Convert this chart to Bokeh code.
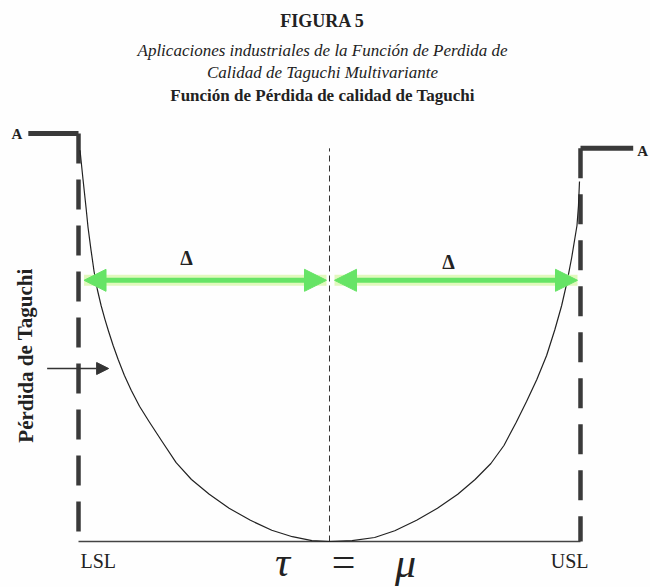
from bokeh.plotting import figure
from bokeh.models import Label, Arrow, NormalHead, Range1d
from bokeh.embed import file_html
from bokeh.resources import INLINE

# ---- data -------------------------------------------------------------
# deviation from target (LSL = -1, target tau = 0, USL = +1)
spec_limits = [-1.0, 1.0]
target = 0.0
# loss level A reached outside the specification limits (left, right)
loss_A = [1.02, 0.983]
# Taguchi quality-loss curve, read point by point
loss_dev = [-0.994, -0.982, -0.970, -0.962, -0.950, -0.938, -0.925, -0.910,
            -0.895, -0.880, -0.862, -0.842, -0.817, -0.790, -0.757, -0.719,
            -0.667, -0.611, -0.550, -0.479, -0.400, -0.315, -0.230, -0.148,
            -0.070, 0.0,
            0.090, 0.180, 0.260, 0.347, 0.430, 0.511, 0.580, 0.643, 0.695,
            0.743, 0.785, 0.826, 0.865, 0.898, 0.925, 0.946, 0.965, 0.986,
            0.992, 0.996]
loss_val = [0.978, 0.905, 0.835, 0.785, 0.728, 0.675, 0.630, 0.590,
            0.556, 0.525, 0.490, 0.455, 0.415, 0.378, 0.338, 0.300,
            0.250, 0.197, 0.155, 0.118, 0.083, 0.053, 0.028, 0.012,
            0.002, 0.0,
            0.002, 0.010, 0.027, 0.053, 0.083, 0.118, 0.155, 0.195, 0.240,
            0.297, 0.350, 0.405, 0.465, 0.530, 0.590, 0.648, 0.710, 0.790,
            0.840, 0.900]
# tolerance half-width Delta drawn at this loss level
delta_level = 0.653
# small marker pointing at the loss curve
marker_level = 0.4325
# top of the target line
target_line_top = 0.983

title_lines = ["FIGURA 5",
               "Aplicaciones industriales de la Función de Perdida de",
               "Calidad de Taguchi Multivariante",
               "Función de Pérdida de calidad de Taguchi"]

W, H = 650, 587
SERIF = "Liberation Serif"
INK = "#222222"

p = figure(width=W, height=H, x_range=Range1d(-1.3108, 1.2789),
           y_range=Range1d(-0.115, 1.3525), x_axis_type=None, y_axis_type=None,
           toolbar_location=None, output_backend="svg", min_border=0)
p.grid.visible = False
p.outline_line_color = None
p.background_fill_color = "#fefefe"
p.border_fill_color = "#fefefe"

lsl, usl = spec_limits

# baseline between the limits
p.line([lsl, usl], [0, 0], line_color="#444444", line_width=1.4)
# target line
p.line([target, target], [0, target_line_top], line_color="#333333",
       line_width=1, line_dash="6 4")

# step to level A outside the limits
p.line([lsl - 0.2, lsl], [loss_A[0], loss_A[0]], line_color="#3a3a3a", line_width=5)
p.line([usl, usl + 0.21], [loss_A[1], loss_A[1]], line_color="#3a3a3a", line_width=5)
p.line([lsl, lsl], [loss_A[0], 0], line_color="#3a3a3a", line_width=4.5,
       line_dash="30 16")
p.line([usl, usl], [loss_A[1], 0], line_color="#3a3a3a", line_width=4.5,
       line_dash="30 16")

# quality-loss curve
p.line(loss_dev, loss_val, line_color="#222222", line_width=1.2,
       line_join="round")

# Delta arrows (target -> each limit)
green = "#66e466"
halo = "#d9f7ad"
for xs, xe in [(lsl + 0.022, target - 0.012), (target + 0.02, usl - 0.012)]:
    p.line([xs, xe], [delta_level, delta_level], line_color=halo,
           line_width=11, line_alpha=0.8)
    p.add_layout(Arrow(x_start=xs, y_start=delta_level, x_end=xe, y_end=delta_level,
                       line_color=green, line_width=5,
                       start=NormalHead(size=22, fill_color=green, line_color=green),
                       end=NormalHead(size=22, fill_color=green, line_color=green)))

# marker arrow on the loss axis
p.add_layout(Arrow(x_start=lsl - 0.125, y_start=marker_level, x_end=lsl + 0.12,
                   y_end=marker_level, line_color="#333333", line_width=1.5,
                   end=NormalHead(size=12, fill_color="#333333", line_color="#333333")))

def lab(x, y, text, size, style="normal", align="center", units="data",
        angle=0, xoff=0, yoff=0):
    p.add_layout(Label(x=x, y=y, x_units=units, y_units=units, text=text,
                       text_font=SERIF, text_font_size=f"{size}px",
                       text_font_style=style, text_color=INK, text_align=align,
                       text_baseline="middle", angle=angle,
                       x_offset=xoff, y_offset=yoff))

# titles
TX = 322
lab(TX, H - 20, title_lines[0], 18, "bold", units="screen")
lab(TX, H - 50, title_lines[1], 17, "italic", units="screen")
lab(TX, H - 72, title_lines[2], 17, "italic", units="screen")
lab(TX, H - 95, title_lines[3], 17, "bold", units="screen")

# level A labels
lab(lsl - 0.2, loss_A[0], "A", 15, "bold", align="right", xoff=-6)
lab(usl + 0.21, loss_A[1], "A", 15, "bold", align="left", xoff=4, yoff=-3)

# Delta labels
lab(-0.57, delta_level + 0.055, "Δ", 20, "bold")
lab(0.474, delta_level + 0.045, "Δ", 20, "bold")

# vertical axis title
lab(25, H - 355, "Pérdida de Taguchi", 21, "bold", units="screen", angle=1.5708)

# limit and target labels
lab(lsl, 0, "LSL", 20, align="left", xoff=2, yoff=-19)
lab(usl, 0, "USL", 20, align="right", xoff=8, yoff=-19)
lab(target, 0, "=", 42, xoff=14, yoff=-20)
lab(target, 0, "τ", 42, "italic", xoff=-47, yoff=-20)
lab(target, 0, "μ", 42, "italic", xoff=76, yoff=-21)

open("out.html", "w").write(file_html(p, INLINE))
